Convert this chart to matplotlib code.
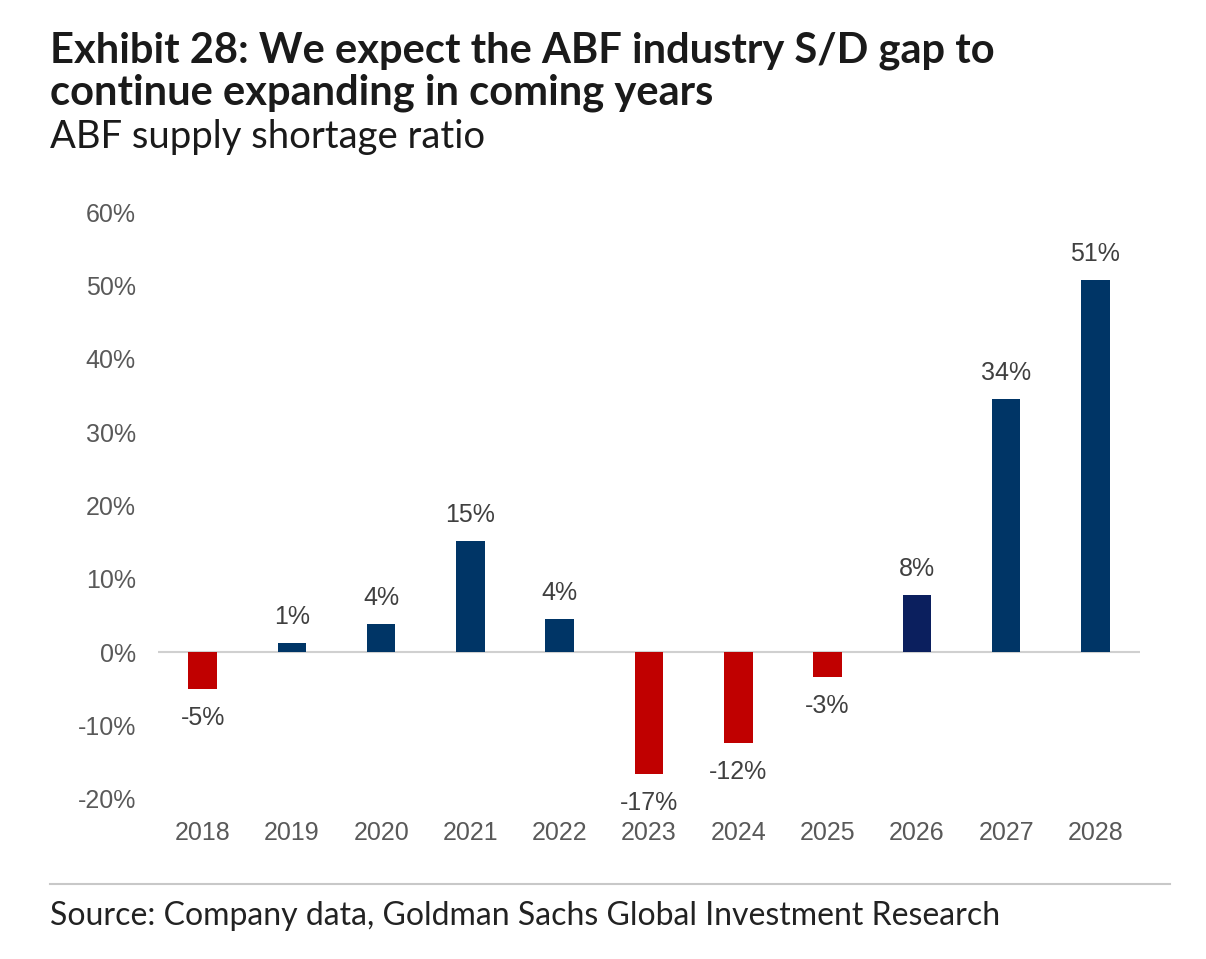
import matplotlib
matplotlib.use("Agg")
import matplotlib.pyplot as plt

years = ["2018", "2019", "2020", "2021", "2022", "2023", "2024", "2025", "2026", "2027", "2028"]
values = [-5.0, 1.3, 3.8, 15.2, 4.5, -16.6, -12.4, -3.4, 7.8, 34.5, 50.8]
labels = ["-5%", "1%", "4%", "15%", "4%", "-17%", "-12%", "-3%", "8%", "34%", "51%"]
colors = ["#C00000", "#003566", "#003566", "#003566", "#003566", "#C00000",
          "#C00000", "#C00000", "#0B1F5E", "#003566", "#003566"]
yticks = [-20, -10, 0, 10, 20, 30, 40, 50, 60]

plt.rcParams["font.family"] = ["Liberation Sans", "DejaVu Sans"]

W, H = 1206, 959
fig = plt.figure(figsize=(W / 100, H / 100), dpi=100)

def fx(px):
    return px / W

def fy(py):
    return 1 - py / H

ax = fig.add_axes([fx(158), fy(799), fx(1140) - fx(158), fy(212) - fy(799)])
x = list(range(len(years)))
ax.bar(x, values, width=0.32, color=colors, zorder=3)
ax.axhline(0, color="#D0D0D0", linewidth=1.5, zorder=2)
ax.set_xlim(-0.5, len(years) - 0.5)
ax.set_ylim(-20, 60)
for s in ax.spines.values():
    s.set_visible(False)
ax.set_yticks(yticks)
ax.set_yticklabels([f"{t}%" for t in yticks])
ax.set_xticks(x)
ax.set_xticklabels(years)
ax.tick_params(axis="both", length=0, labelsize=18, labelcolor="#595959")
ax.tick_params(axis="y", pad=16)
ax.tick_params(axis="x", pad=16)

for xi, v, t in zip(x, values, labels):
    if v >= 0:
        ax.annotate(t, (xi, v), xytext=(0, 10), textcoords="offset points",
                    ha="center", va="bottom", fontsize=18, color="#404040")
    else:
        ax.annotate(t, (xi, v), xytext=(0, -12), textcoords="offset points",
                    ha="center", va="top", fontsize=18, color="#404040")

fig.text(fx(50), fy(62), "Exhibit 28: We expect the ABF industry S/D gap to",
         fontsize=30, fontweight="bold", family="Lato", color="#1a1a1a", va="baseline")
fig.text(fx(50), fy(104), "continue expanding in coming years",
         fontsize=30, fontweight="bold", family="Lato", color="#1a1a1a", va="baseline")
fig.text(fx(50), fy(148), "ABF supply shortage ratio",
         fontsize=27.5, family="Lato", color="#1a1a1a", va="baseline")

fig.add_artist(plt.Line2D([fx(50), fx(1170)], [fy(884), fy(884)],
                          transform=fig.transFigure, color="#C8C8C8", linewidth=1.5))
fig.text(fx(50), fy(925), "Source: Company data, Goldman Sachs Global Investment Research",
         fontsize=23, family="Lato", color="#222222", va="baseline")

fig.savefig("out.png", dpi=100, facecolor="white")
